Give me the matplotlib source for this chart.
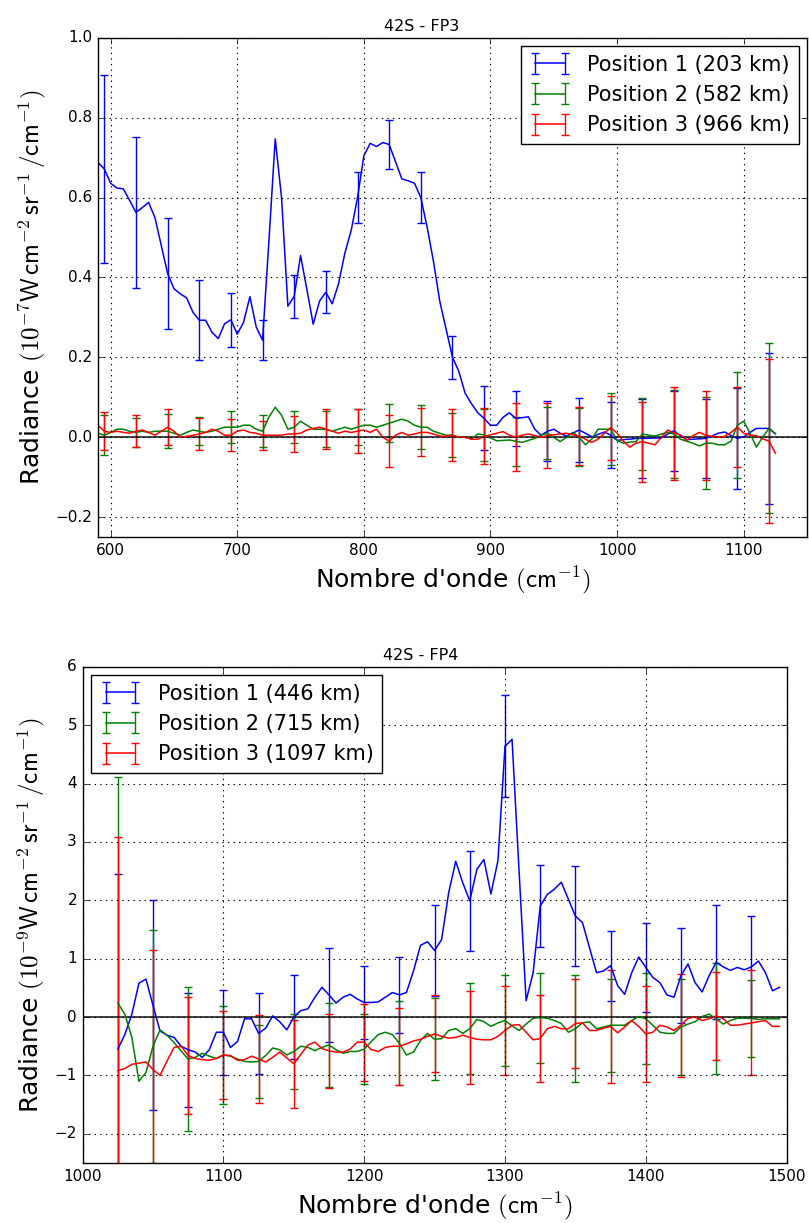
import numpy as np
import matplotlib
matplotlib.use("Agg")
import matplotlib.pyplot as plt

plt.style.use('classic')
plt.rcParams['font.family'] = ['DejaVu Sans']
plt.rcParams['mathtext.fontset'] = 'cm'

# ---------------- FP3 (top) ----------------
wn_fp3 = np.arange(590, 1126, 5)
pos1_fp3 = [0.688, 0.672, 0.636, 0.624, 0.622, 0.593, 0.563, 0.575, 0.588, 0.550,
            0.480, 0.410, 0.372, 0.359, 0.349, 0.313, 0.293, 0.293, 0.263, 0.247,
            0.284, 0.294, 0.258, 0.288, 0.352, 0.276, 0.243, 0.490, 0.747, 0.600,
            0.328, 0.353, 0.455, 0.370, 0.283, 0.341, 0.363, 0.334, 0.384, 0.461,
            0.518, 0.600, 0.705, 0.736, 0.728, 0.738, 0.733, 0.690, 0.647, 0.642,
            0.636, 0.600, 0.526, 0.440, 0.340, 0.270, 0.200, 0.165, 0.110, 0.084,
            0.061, 0.047, 0.030, 0.030, 0.050, 0.061, 0.047, 0.049, 0.051, 0.020,
            0.005, 0.015, 0.020, 0.010, 0.003, 0.010, 0.018, 0.010, 0.001, 0.007,
            0.013, 0.005, -0.008, -0.006, -0.005, -0.003, -0.003, -0.003, -0.002, -0.002,
            0.008, 0.016, 0.004, -0.006, -0.005, -0.004, -0.003, 0.003, 0.010, 0.013,
            0.004, -0.003, 0.001, 0.012, 0.022, 0.022, 0.022, 0.009]
pos2_fp3 = [0.010, 0.005, 0.012, 0.020, 0.020, 0.015, 0.012, 0.015, 0.012, 0.015,
            0.015, 0.015, 0.010, 0.005, 0.012, 0.018, 0.015, 0.012, 0.015, 0.020,
            0.025, 0.025, 0.025, 0.030, 0.030, 0.020, 0.015, 0.050, 0.075, 0.055,
            0.020, 0.025, 0.040, 0.030, 0.020, 0.020, 0.020, 0.015, 0.020, 0.025,
            0.020, 0.025, 0.030, 0.030, 0.025, 0.030, 0.035, 0.040, 0.045, 0.040,
            0.030, 0.025, 0.025, 0.015, 0.010, 0.005, 0.005, 0.000, 0.000, -0.005,
            0.008, 0.006, -0.002, -0.009, -0.008, -0.007, -0.010, -0.013, -0.008, -0.003,
            0.005, 0.010, 0.000, -0.011, 0.000, 0.012, 0.000, -0.019, -0.005, 0.020,
            0.020, 0.020, -0.008, -0.015, -0.012, -0.011, 0.008, 0.005, 0.003, 0.008,
            0.012, 0.008, -0.005, -0.010, -0.015, -0.022, -0.015, -0.015, -0.019, -0.019,
            -0.010, 0.030, 0.040, 0.010, -0.025, 0.000, 0.022, 0.008]
pos3_fp3 = [0.030, 0.015, 0.012, 0.015, 0.012, 0.010, 0.015, 0.018, 0.012, 0.005,
            0.015, 0.025, 0.015, 0.000, 0.002, 0.005, 0.008, 0.012, 0.020, 0.015,
            0.005, 0.005, 0.015, 0.018, 0.012, 0.010, 0.005, 0.005, 0.005, 0.005,
            0.008, 0.008, 0.010, 0.018, 0.022, 0.025, 0.020, 0.015, 0.010, 0.015,
            0.012, 0.015, 0.018, 0.012, 0.020, 0.000, -0.010, 0.005, 0.012, 0.005,
            0.008, 0.012, 0.012, 0.008, 0.003, 0.002, 0.005, 0.000, 0.000, -0.005,
            -0.005, 0.002, 0.006, 0.010, 0.014, 0.005, 0.000, 0.005, 0.008, 0.004,
            0.000, 0.004, 0.006, 0.008, 0.010, 0.006, 0.003, -0.005, -0.013, -0.005,
            0.010, 0.024, 0.010, -0.010, -0.025, -0.015, -0.011, -0.015, -0.019, 0.000,
            0.018, 0.010, 0.006, -0.008, 0.004, 0.012, 0.005, 0.002, 0.000, 0.002,
            0.012, 0.025, 0.010, 0.005, 0.004, -0.004, -0.010, -0.040]
err_wn_fp3 = np.arange(595, 1121, 25)
err1_fp3 = [0.235, 0.19, 0.14, 0.10, 0.068, 0.05, 0.054, 0.052, 0.064, 0.062, 0.064,
            0.053, 0.08, 0.069, 0.075, 0.08, 0.082, 0.098, 0.10, 0.098, 0.127, 0.19]
err2_fp3 = [0.05, 0.037, 0.043, 0.035, 0.04, 0.04, 0.04, 0.045, 0.045, 0.048, 0.055,
            0.055, 0.065, 0.061, 0.065, 0.073, 0.09, 0.09, 0.11, 0.115, 0.133, 0.213]
err3_fp3 = [0.047, 0.04, 0.045, 0.04, 0.04, 0.036, 0.045, 0.05, 0.055, 0.065, 0.06,
            0.065, 0.07, 0.085, 0.082, 0.072, 0.08, 0.10, 0.116, 0.111, 0.10, 0.206]
labels_fp3 = ['Position 1 (203 km)', 'Position 2 (582 km)', 'Position 3 (966 km)']

# ---------------- FP4 (bottom) ----------------
wn_fp4 = np.arange(1025, 1496, 5)
pos1_fp4 = [-0.55, -0.30, 0.05, 0.58, 0.65, 0.20, -0.24, -0.31, -0.35, -0.50,
            -0.56, -0.60, -0.69, -0.56, -0.26, -0.26, -0.52, -0.42, -0.03, -0.03,
            -0.28, -0.19, 0.02, -0.08, -0.22, 0.00, 0.11, 0.14, 0.34, 0.51,
            0.38, 0.24, 0.34, 0.39, 0.31, 0.25, 0.25, 0.26, 0.34, 0.42,
            0.38, 0.42, 0.79, 1.23, 1.29, 1.14, 1.33, 2.13, 2.67, 2.30,
            1.99, 2.53, 2.70, 2.11, 2.68, 4.64, 4.76, 2.50, 0.28, 0.76,
            1.90, 2.10, 2.19, 2.31, 2.02, 1.73, 1.62, 1.19, 0.76, 0.79,
            0.88, 0.54, 0.39, 0.76, 1.03, 0.85, 0.68, 0.59, 0.38, 0.34,
            0.71, 0.91, 0.59, 0.43, 0.71, 0.94, 0.86, 0.80, 0.85, 0.81,
            0.86, 0.96, 0.76, 0.45, 0.51]
pos2_fp4 = [0.24, 0.05, -0.35, -1.10, -0.95, -0.50, -0.22, -0.31, -0.44, -0.58,
            -0.72, -0.69, -0.62, -0.67, -0.71, -0.65, -0.67, -0.72, -0.76, -0.77,
            -0.76, -0.66, -0.53, -0.56, -0.65, -0.59, -0.50, -0.52, -0.575, -0.52,
            -0.48, -0.56, -0.62, -0.59, -0.59, -0.55, -0.42, -0.30, -0.26, -0.30,
            -0.45, -0.65, -0.60, -0.40, -0.28, -0.38, -0.37, -0.23, -0.20, -0.28,
            -0.20, -0.04, -0.08, -0.16, -0.10, -0.06, -0.15, -0.23, -0.12, -0.02,
            -0.01, -0.02, -0.06, -0.11, -0.26, -0.20, -0.10, -0.08, -0.20, -0.17,
            -0.14, -0.14, -0.14, -0.06, 0.01, -0.03, -0.14, -0.26, -0.28, -0.28,
            -0.17, -0.12, -0.08, 0.01, 0.05, -0.03, -0.12, -0.06, -0.02, -0.02,
            -0.02, -0.04, -0.03, -0.03, -0.03]
pos3_fp4 = [-0.92, -0.88, -0.81, -0.79, -0.77, -0.90, -1.00, -0.75, -0.52, -0.50,
            -0.66, -0.71, -0.73, -0.74, -0.71, -0.65, -0.66, -0.74, -0.73, -0.67,
            -0.72, -0.77, -0.69, -0.60, -0.70, -0.80, -0.64, -0.48, -0.43, -0.54,
            -0.58, -0.60, -0.60, -0.55, -0.43, -0.43, -0.56, -0.59, -0.52, -0.50,
            -0.50, -0.46, -0.41, -0.38, -0.33, -0.29, -0.33, -0.36, -0.35, -0.31,
            -0.35, -0.38, -0.39, -0.39, -0.33, -0.23, -0.14, -0.13, -0.26, -0.39,
            -0.37, -0.20, -0.16, -0.20, -0.20, -0.11, -0.10, -0.23, -0.23, -0.19,
            -0.16, -0.27, -0.17, -0.06, -0.16, -0.29, -0.26, -0.14, -0.17, -0.23,
            -0.14, -0.02, 0.00, -0.06, -0.03, 0.02, -0.03, -0.14, -0.14, -0.12,
            -0.10, -0.08, -0.06, -0.16, -0.16]
err_wn_fp4 = np.arange(1025, 1476, 25)
err1_fp4 = [3.0, 1.8, 0.98, 0.73, 0.70, 0.72, 0.80, 0.63, 0.65, 0.78,
            0.85, 0.87, 0.70, 0.85, 0.60, 0.77, 0.82, 0.98, 0.88]
err2_fp4 = [3.88, 2.0, 1.24, 0.84, 0.63, 0.64, 0.72, 0.60, 0.72, 0.70,
            0.78, 0.78, 0.77, 0.92, 0.80, 0.78, 0.82, 0.95, 0.66]
err3_fp4 = [4.0, 2.05, 1.0, 0.75, 0.75, 0.75, 0.64, 0.66, 0.66, 0.66,
            0.79, 0.77, 0.74, 0.76, 0.97, 0.82, 0.88, 0.76, 0.90]
labels_fp4 = ['Position 1 (446 km)', 'Position 2 (715 km)', 'Position 3 (1097 km)']

colors = ['b', 'g', 'r']


def panel(ax, wn, series, err_wn, errs, labels, title, title_x, expo, loc):
    mask = np.isin(wn, err_wn)
    for y, e, lab, c in zip(series, errs, labels, colors):
        yerr = np.zeros(len(wn))
        yerr[mask] = e
        ax.errorbar(wn, y, yerr=yerr, errorevery=mask, color=c, ecolor=c,
                    lw=1.1, elinewidth=1.0, capsize=3, capthick=1.0, label=lab)
    ax.axhline(0, color='k', lw=1.3, alpha=0.8)
    ax.grid(True, color='k', linestyle=':', lw=0.8)
    ax.set_title(title, fontsize=11.5, x=title_x)
    ax.set_xlabel(r"Nombre d'onde $(\mathsf{cm}^{-1})$", fontsize=18)
    ax.set_ylabel(r'Radiance $(10^{%d}\mathsf{W\,cm^{-2}\,sr^{-1}\,/cm^{-1}})$' % expo,
                  fontsize=18)
    ax.tick_params(labelsize=11)
    leg = ax.legend(loc=loc, fontsize=15, numpoints=2, fancybox=False,
                    borderaxespad=0.4)
    leg.get_frame().set_linewidth(1.0)


fig = plt.figure(figsize=(8.09, 12.23), dpi=100, facecolor='white')
ax1 = fig.add_axes([0.1211, 0.5609, 0.8764, 0.4081])
ax2 = fig.add_axes([0.1021, 0.0491, 0.8702, 0.4056])

panel(ax1, wn_fp3, [pos1_fp3, pos2_fp3, pos3_fp3], err_wn_fp3,
      [err1_fp3, err2_fp3, err3_fp3], labels_fp3, '42S - FP3', 0.456, -7,
      'upper right')
ax1.set_xlim(590, 1150)
ax1.set_ylim(-0.25, 1.0)
ax1.set_xticks([600, 700, 800, 900, 1000, 1100])
ax1.set_yticks([-0.2, 0.0, 0.2, 0.4, 0.6, 0.8, 1.0])

panel(ax2, wn_fp4, [pos1_fp4, pos2_fp4, pos3_fp4], err_wn_fp4,
      [err1_fp4, err2_fp4, err3_fp4], labels_fp4, '42S - FP4', 0.48, -9,
      'upper left')
ax2.set_xlim(1000, 1500)
ax2.set_ylim(-2.5, 6)
ax2.set_yticks(range(-2, 7))

fig.savefig('out.png', dpi=100, facecolor='white')
